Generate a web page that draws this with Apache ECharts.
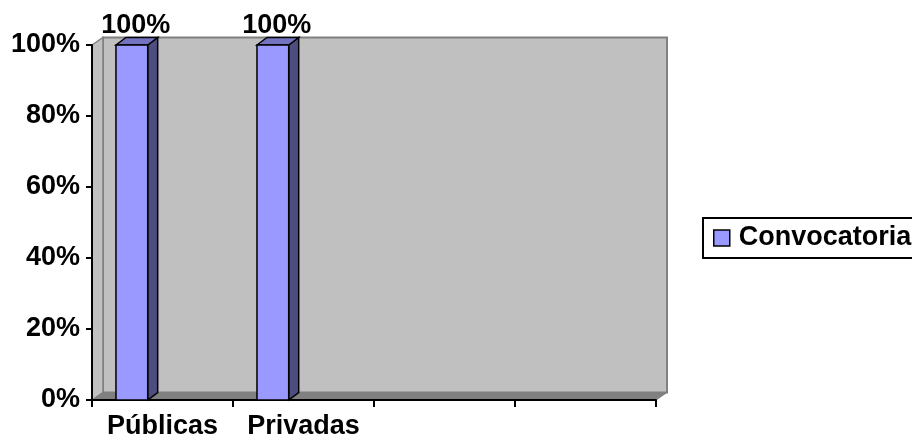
<!DOCTYPE html>
<html>
<head>
<meta charset="utf-8">
<script src="https://cdn.jsdelivr.net/npm/echarts@6/dist/echarts.min.js"></script>
<style>
  html, body { margin: 0; padding: 0; background: #fff; }
  #chart { width: 912px; height: 441px; }
</style>
</head>
<body>
<div id="chart"></div>
<script>
// datos del gráfico
const categorias = ['Públicas', 'Privadas', '', ''];
const convocatoria = [100, 100, null, null];
const ticksY = [0, 20, 40, 60, 80, 100];

const FUENTE = "'Liberation Sans', Arial, sans-serif";
const TAM = 27;
// desplazamiento de profundidad (efecto 3D)
const DX = 11, DY = -7.5;

const chart = echarts.init(document.getElementById('chart'));

const option = {
  animation: false,
  grid: { left: 92, right: 256, top: 45, bottom: 41, containLabel: false },
  legend: {
    data: ['Convocatoria'],
    left: 703, top: 218,
    orient: 'vertical',
    icon: 'rect',
    itemWidth: 16, itemHeight: 16,
    padding: [5, 8, 5, 10],
    borderColor: '#000', borderWidth: 2,
    itemStyle: { color: '#9999ff', borderColor: '#000', borderWidth: 1.5 },
    textStyle: { fontFamily: FUENTE, fontWeight: 'bold', fontSize: TAM, color: '#000',
                 lineHeight: 30, padding: [0, 0, 0, 4] }
  },
  xAxis: {
    type: 'category',
    data: categorias,
    boundaryGap: true,
    axisLine: { lineStyle: { color: '#000', width: 2 } },
    axisTick: { show: true, interval: 0, length: 7, lineStyle: { color: '#000', width: 2 } },
    axisLabel: { interval: 0, hideOverlap: false, fontFamily: FUENTE, fontWeight: 'bold',
                 fontSize: TAM, color: '#000', margin: 13 },
    splitLine: { show: false }
  },
  yAxis: {
    type: 'value',
    min: ticksY[0], max: ticksY[ticksY.length - 1], interval: 20,
    axisLine: { show: true, lineStyle: { color: '#000', width: 2 } },
    axisTick: { show: true, length: 6, lineStyle: { color: '#000', width: 2 } },
    axisLabel: { fontFamily: FUENTE, fontWeight: 'bold', fontSize: TAM, color: '#000', margin: 12,
                 formatter: '{value}%' },
    splitLine: { show: false }
  },
  series: [
    {
      // paredes y suelo del área de trazado
      name: 'paredes',
      type: 'custom',
      silent: true,
      z: -1,
      data: [[0, 0]],
      renderItem: function (params, api) {
        const band = api.size([1, 0])[0];
        const a = api.coord([0, ticksY[0]]);
        const b = api.coord([categorias.length - 1, ticksY[ticksY.length - 1]]);
        const x0 = a[0] - band / 2, x1 = b[0] + band / 2;
        const y0 = a[1], y1 = b[1];
        return {
          type: 'group',
          children: [
            { type: 'rect', shape: { x: x0 + DX, y: y1 + DY, width: x1 - x0, height: y0 - y1 },
              style: { fill: '#c0c0c0', stroke: '#808080', lineWidth: 2 } },
            { type: 'polygon', shape: { points: [[x0, y1], [x0 + DX, y1 + DY], [x0 + DX, y0 + DY], [x0, y0]] },
              style: { fill: '#c0c0c0', stroke: '#808080', lineWidth: 1.5 } },
            { type: 'polygon', shape: { points: [[x0, y0], [x0 + DX, y0 + DY], [x1 + DX, y0 + DY], [x1, y0]] },
              style: { fill: '#808080', stroke: '#808080', lineWidth: 1 } }
          ]
        };
      }
    },
    {
      name: 'Convocatoria',
      type: 'custom',
      z: 3,
      data: convocatoria.map((v, i) => [i, v]),
      renderItem: function (params, api) {
        if (api.value(1) == null || isNaN(api.value(1))) return;
        const band = api.size([1, 0])[0];
        const base = api.coord([api.value(0), 0]);
        const tope = api.coord([api.value(0), api.value(1)]);
        const left = base[0] - band / 2 + band * 0.17;
        const w = band * 0.225;
        const yt = tope[1], yb = base[1];
        const dx = DX - 1, dy = DY;
        const borde = { stroke: '#000', lineWidth: 1.5 };
        return {
          type: 'group',
          children: [
            { type: 'polygon', shape: { points: [[left + w, yt], [left + w + dx, yt + dy], [left + w + dx, yb + dy], [left + w, yb]] },
              style: Object.assign({ fill: '#4d4d80' }, borde) },
            { type: 'polygon', shape: { points: [[left, yt], [left + dx, yt + dy], [left + w + dx, yt + dy], [left + w, yt]] },
              style: Object.assign({ fill: '#7373c0' }, borde) },
            { type: 'rect', shape: { x: left, y: yt, width: w, height: yb - yt },
              style: Object.assign({ fill: '#9999ff' }, borde) },
            { type: 'text', style: {
                x: left + w / 2 + 4, y: yt - 6,
                text: api.value(1) + '%',
                textAlign: 'center', textVerticalAlign: 'bottom',
                font: 'bold ' + TAM + 'px ' + FUENTE, fill: '#000' } }
          ]
        };
      }
    }
  ]
};

chart.setOption(option);
</script>
</body>
</html>
